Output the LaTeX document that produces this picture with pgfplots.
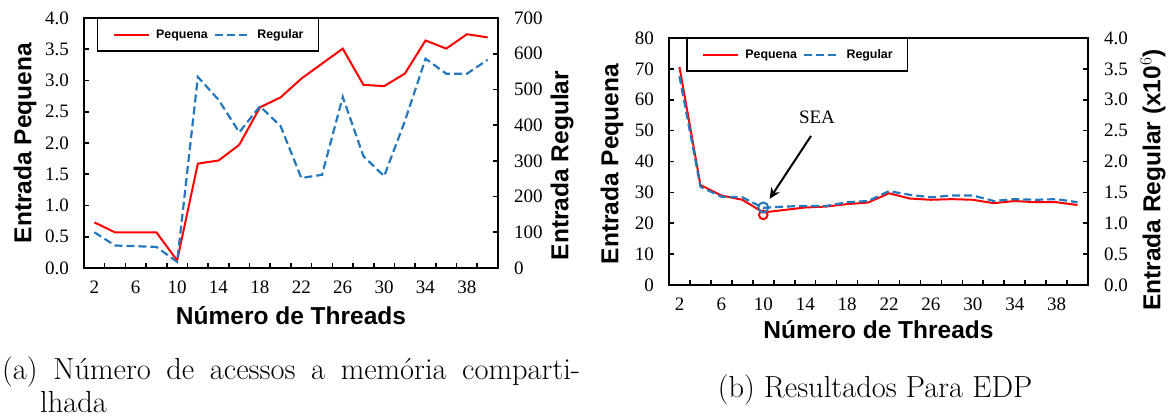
\documentclass[border=0pt]{standalone}
\usepackage{fontspec}
\newfontfamily\arialfont{Liberation Sans}
\newfontfamily\tnrfont{Liberation Serif}
\usepackage{pgfplots}
\pgfplotsset{compat=1.18}
\usetikzlibrary{arrows.meta}

\definecolor{pred}{RGB}{255,0,0}
\definecolor{pblue}{RGB}{35,120,190}

\tikzset{tk/.style={draw=black, line width=1.6pt}}

\pgfplotsset{
  threadaxis/.style={
    scale only axis,
    xmin=1, xmax=41,
    % tick marks sit between categories, labels on every other category
    xtick={3,5,...,39},
    xticklabels={2,,6,,10,,14,,18,,22,,26,,30,,34,,38},
    tick align=inside,
    major tick length=5pt,
    tick style={draw=black, line width=1.6pt},
    axis line style={line width=2pt},
    ticklabel style={font=\tnrfont\fontsize{19}{19}\selectfont},
    /pgf/number format/assume math mode=true,
    xticklabel style={anchor=north, inner sep=0pt, yshift=-13pt, xshift=-10.4pt},
    label style={font=\arialfont\bfseries\fontsize{24.5}{26}\selectfont},
    legend style={font=\arialfont\bfseries\fontsize{12.4}{13}\selectfont,
      draw=black, line width=1.5pt, legend columns=2,
      inner xsep=15pt, inner ysep=11pt, nodes={inner sep=0pt},
      /tikz/every odd column/.append style={column sep=6.6pt},
      /tikz/every even column/.append style={column sep=5.7pt}},
    legend image code/.code={\draw[##1] (0pt,0pt) -- (35pt,0pt);},
  },
  leftax/.style={
    xtick pos=left, ytick pos=left,
    yticklabel style={anchor=east, inner sep=0pt, xshift=-15pt},
  },
  rightax/.style={
    axis y line*=right, axis x line=none,
    yticklabel style={anchor=west, inner sep=0pt, xshift=16pt},
  },
  redline/.style={color=pred, line width=2pt},
  blueline/.style={color=pblue, line width=2.2pt, dash pattern=on 8pt off 4pt},
}

\begin{document}
\begin{tikzpicture}
\useasboundingbox (0pt,0pt) rectangle (1173pt,419pt);

% ---- (a) acessos a memoria compartilhada
\begin{axis}[threadaxis, leftax, at={(84pt,151pt)}, anchor=south west,
  width=414pt, height=250pt,
  ymin=0, ymax=4, ytick={0,0.5,1,1.5,2,2.5,3,3.5,4},
  yticklabel style={/pgf/number format/.cd, fixed, fixed zerofill, precision=1},
  xlabel={Número de Threads},
  xlabel style={at={(axis description cs:0.5,-0.192)}, anchor=center},
  ylabel={Entrada Pequena},
  ylabel style={at={(axis description cs:-0.1425,0.5)}, anchor=center},
]
\pgfplotsinvokeforeach{3,5,...,39}{\draw[tk] (axis cs:#1,0) -- ++(0pt,5pt);}
\pgfplotsinvokeforeach{0.5,1,1.5,2,2.5,3,3.5}{\draw[tk] (axis cs:1,#1) -- ++(5pt,0pt);}
\addplot[redline] coordinates {
  (2,0.73)(4,0.57)(6,0.57)(8,0.57)(10,0.12)(12,1.67)(14,1.72)(16,1.97)(18,2.57)(20,2.73)
  (22,3.03)(24,3.27)(26,3.51)(28,2.93)(30,2.91)(32,3.11)(34,3.64)(36,3.51)(38,3.74)(40,3.69)
};
\end{axis}
\begin{axis}[threadaxis, rightax, at={(84pt,151pt)}, anchor=south west,
  width=414pt, height=250pt,
  ymin=0, ymax=700, ytick={0,100,...,700},
  ylabel={Entrada Regular},
  ylabel style={at={(axis description cs:1.155,0.41)}, anchor=center},
  legend style={at={(axis description cs:0.031,1)}, anchor=north west},
]
\pgfplotsinvokeforeach{100,200,...,600}{\draw[tk] (axis cs:41,#1) -- ++(-5pt,0pt);}
\addlegendimage{redline}
\addlegendentry{Pequena}
\addplot[blueline] coordinates {
  (2,100)(4,63)(6,61)(8,59)(10,17)(12,535)(14,471)(16,380)(18,453)(20,397)
  (22,252)(24,261)(26,479)(28,313)(30,257)(32,411)(34,586)(36,544)(38,544)(40,583)
};
\addlegendentry{Regular}
\end{axis}

% ---- (b) EDP
\begin{axis}[threadaxis, leftax, at={(669pt,134pt)}, anchor=south west,
  width=419pt, height=247pt,
  ymin=0, ymax=80, ytick={0,10,...,80},
  xlabel={Número de Threads},
  xlabel style={at={(axis description cs:0.5,-0.182)}, anchor=center},
  ylabel={Entrada Pequena},
  ylabel style={at={(axis description cs:-0.136,0.49)}, anchor=center},
]
\pgfplotsinvokeforeach{3,5,...,39}{\draw[tk] (axis cs:#1,0) -- ++(0pt,5pt);}
\pgfplotsinvokeforeach{10,20,...,70}{\draw[tk] (axis cs:1,#1) -- ++(5pt,0pt);}
\addplot[redline] coordinates {
  (2,70.6)(4,32.4)(6,29.0)(8,27.6)(10,23.5)(12,24.3)(14,25.1)(16,25.4)(18,26.2)(20,26.7)
  (22,29.7)(24,28.0)(26,27.6)(28,27.8)(30,27.6)(32,26.5)(34,27.2)(36,26.8)(38,26.8)(40,25.9)
};
\addplot[color=pred, line width=2pt, only marks, mark=o, mark size=4.3pt] coordinates {(10,22.7)};
\node[font=\tnrfont\fontsize{19}{19}\selectfont] at (axis cs:15.13,54.4) {SEA};
\draw[line width=2pt, -{Stealth[length=11pt,width=10pt]}] (axis cs:14.56,48.3) -- (axis cs:10.6,27.9);
\end{axis}
\begin{axis}[threadaxis, rightax, at={(669pt,134pt)}, anchor=south west,
  width=419pt, height=247pt,
  ymin=0, ymax=4, ytick={0,0.5,1,1.5,2,2.5,3,3.5,4},
  yticklabel style={/pgf/number format/.cd, fixed, fixed zerofill, precision=1},
  ylabel={Entrada Regular (x10$^{6}$)},
  ylabel style={at={(axis description cs:1.155,0.425)}, anchor=center},
  legend style={at={(axis description cs:0.0406,1)}, anchor=north west},
]
\pgfplotsinvokeforeach{0.5,1,1.5,2,2.5,3,3.5}{\draw[tk] (axis cs:41,#1) -- ++(-5pt,0pt);}
\addlegendimage{redline}
\addlegendentry{Pequena}
\addplot[blueline] coordinates {
  (2,3.38)(4,1.59)(6,1.43)(8,1.42)(10,1.25)(12,1.27)(14,1.28)(16,1.28)(18,1.34)(20,1.36)
  (22,1.52)(24,1.46)(26,1.42)(28,1.45)(30,1.45)(32,1.36)(34,1.39)(36,1.38)(38,1.39)(40,1.34)
};
\addlegendentry{Regular}
\addplot[color=pblue, line width=2pt, only marks, mark=o, mark size=5pt, forget plot] coordinates {(10,1.255)};
\end{axis}

% ---- captions
\node[anchor=base west, inner sep=0pt] at (2pt,39.5pt) {\parbox[t]{578pt}{\fontsize{30.5}{33.5}\selectfont
  \noindent\hangindent=38pt\hangafter=1
  (a) Número de acessos a memória comparti-\linebreak lhada}};
\node[anchor=base, inner sep=0pt, font=\fontsize{30.5}{33.5}\selectfont] at (875pt,21.5pt) {(b) Resultados Para EDP};
\end{tikzpicture}
\end{document}
